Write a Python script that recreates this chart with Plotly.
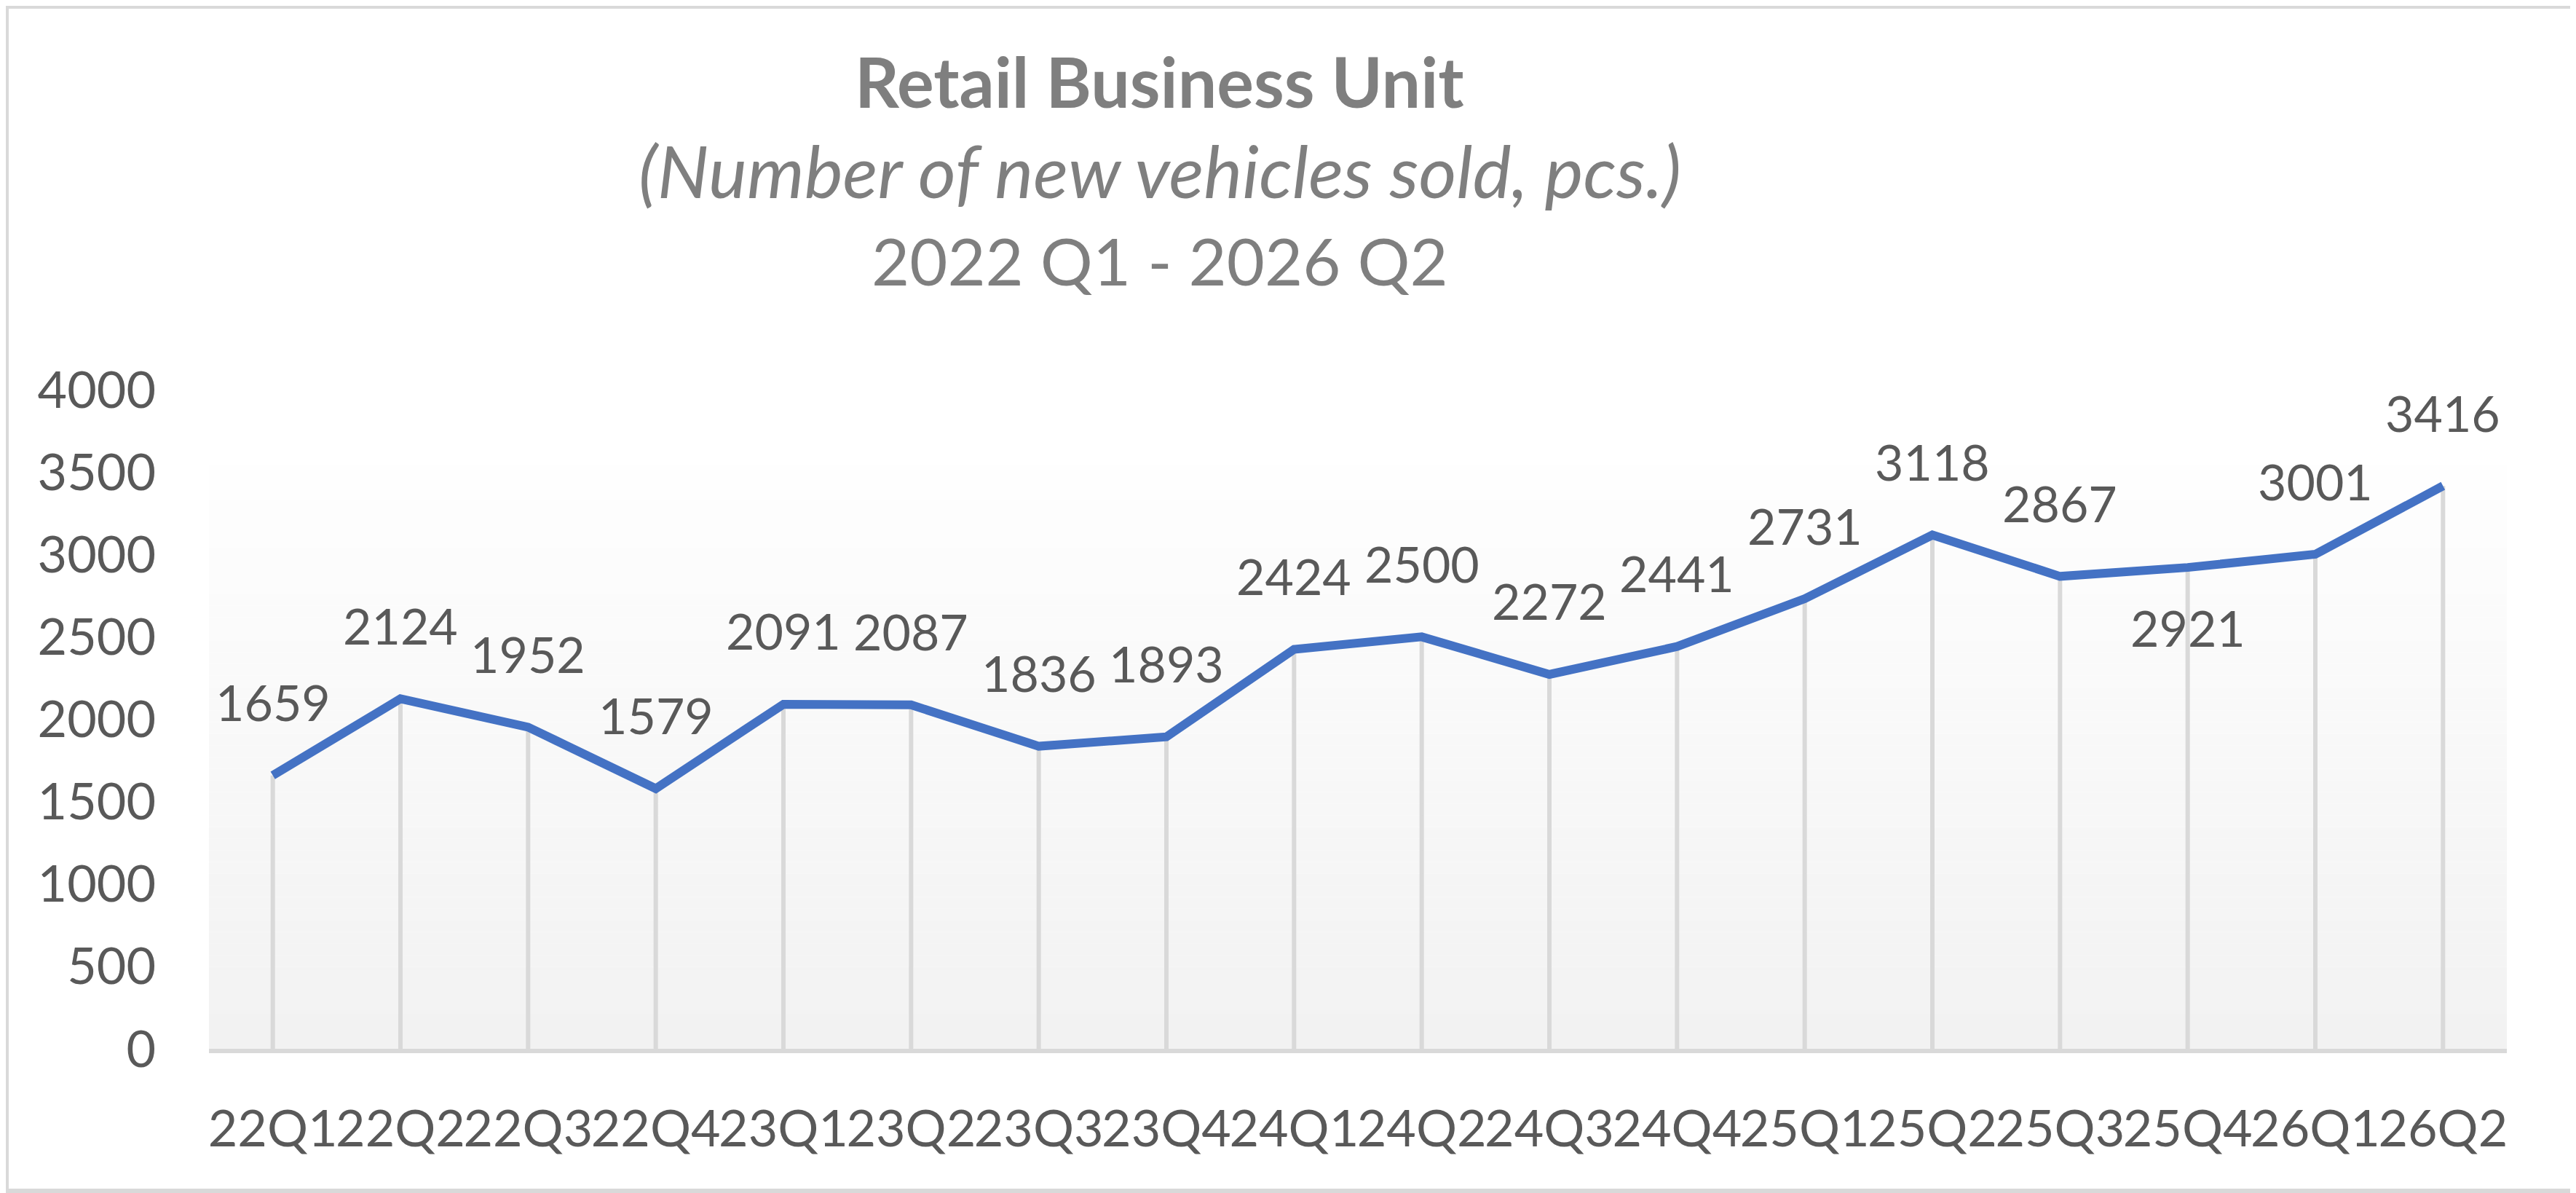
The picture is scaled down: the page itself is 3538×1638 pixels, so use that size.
import plotly.graph_objects as go

quarters = ["22Q1", "22Q2", "22Q3", "22Q4", "23Q1", "23Q2", "23Q3", "23Q4", "24Q1",
            "24Q2", "24Q3", "24Q4", "25Q1", "25Q2", "25Q3", "25Q4", "26Q1", "26Q2"]
vehicles_sold = [1659, 2124, 1952, 1579, 2091, 2087, 1836, 1893, 2424,
                 2500, 2272, 2441, 2731, 3118, 2867, 2921, 3001, 3416]
# which labels sit under the line instead of above it
label_below = ["25Q4"]
y_ticks = [0, 500, 1000, 1500, 2000, 2500, 3000, 3500, 4000]

FONT = "Lato"
LABEL_GREY = "#595959"
TITLE_GREY = "#7f7f7f"
LINE_BLUE = "#4472C4"
LIGHT_GREY = "#d9d9d9"

fig = go.Figure()

# drop lines from each point down to the axis
fig.add_trace(go.Scatter(
    x=quarters, y=vehicles_sold, mode="markers",
    marker=dict(size=1, opacity=0),
    error_y=dict(type="data", symmetric=False, array=[0] * len(vehicles_sold),
                 arrayminus=vehicles_sold, color=LIGHT_GREY, thickness=6, width=0),
    hoverinfo="skip", showlegend=False
))

fig.add_trace(go.Scatter(
    x=quarters, y=vehicles_sold, mode="lines",
    line=dict(color=LINE_BLUE, width=12),
    showlegend=False
))

# data labels
for q, v in zip(quarters, vehicles_sold):
    shift = -82 if q in label_below else 101
    fig.add_annotation(x=q, y=v, text=str(v), showarrow=False, yshift=shift,
                       yanchor="middle", font=dict(family=FONT, size=68, color=LABEL_GREY))

# soft vertical gradient behind the plot
bands = 50
grad_top = 0.885
for i in range(bands):
    g = round(242 + (254 - 242) * i / (bands - 1))
    fig.add_shape(type="rect", xref="paper", yref="paper", layer="below",
                  x0=0, x1=1, y0=grad_top * i / bands, y1=grad_top * (i + 1) / bands,
                  line=dict(width=0), fillcolor=f"rgb({g},{g},{g})")

# chart border
fig.add_shape(type="rect", xref="paper", yref="paper", layer="below",
              x0=-0.0881, x1=1.0292, y0=-0.2155, y1=1.5812,
              line=dict(color=LIGHT_GREY, width=6))

# titles
title_x = 0.4138
fig.add_annotation(xref="paper", yref="paper", x=title_x, y=1.468, showarrow=False,
                   text="<b>Retail Business Unit</b>", yanchor="middle",
                   font=dict(family=FONT, size=95, color=TITLE_GREY))
fig.add_annotation(xref="paper", yref="paper", x=title_x, y=1.334, showarrow=False,
                   text="<i>(Number of new vehicles sold, pcs.)</i>", yanchor="middle",
                   font=dict(family=FONT, size=100, color=TITLE_GREY))
fig.add_annotation(xref="paper", yref="paper", x=title_x, y=1.197, showarrow=False,
                   text="2022 Q1 - 2026 Q2", yanchor="middle",
                   font=dict(family=FONT, size=90, color=TITLE_GREY))

# page body has an 8px margin, so the figure is 8px smaller and shifted
fig.update_layout(
    width=3530, height=1630, autosize=False,
    margin=dict(l=279, r=95, t=527, b=198),
    paper_bgcolor="white", plot_bgcolor="white",
    font=dict(family=FONT, color=LABEL_GREY),
)
fig.update_xaxes(
    type="category", range=[-0.5, len(quarters) - 0.5],
    showgrid=False, zeroline=False, automargin=False, tickangle=0,
    showline=True, linecolor=LIGHT_GREY, linewidth=6,
    ticks="outside", ticklen=44, tickcolor="rgba(0,0,0,0)",
    tickfont=dict(family=FONT, size=70, color=LABEL_GREY),
)
fig.update_yaxes(
    range=[0, 4000], tickvals=y_ticks, automargin=False,
    showgrid=False, zeroline=False, showline=False,
    ticks="outside", ticklen=58, tickcolor="rgba(0,0,0,0)",
    tickfont=dict(family=FONT, size=70, color=LABEL_GREY),
)

fig.write_html("out.html")
